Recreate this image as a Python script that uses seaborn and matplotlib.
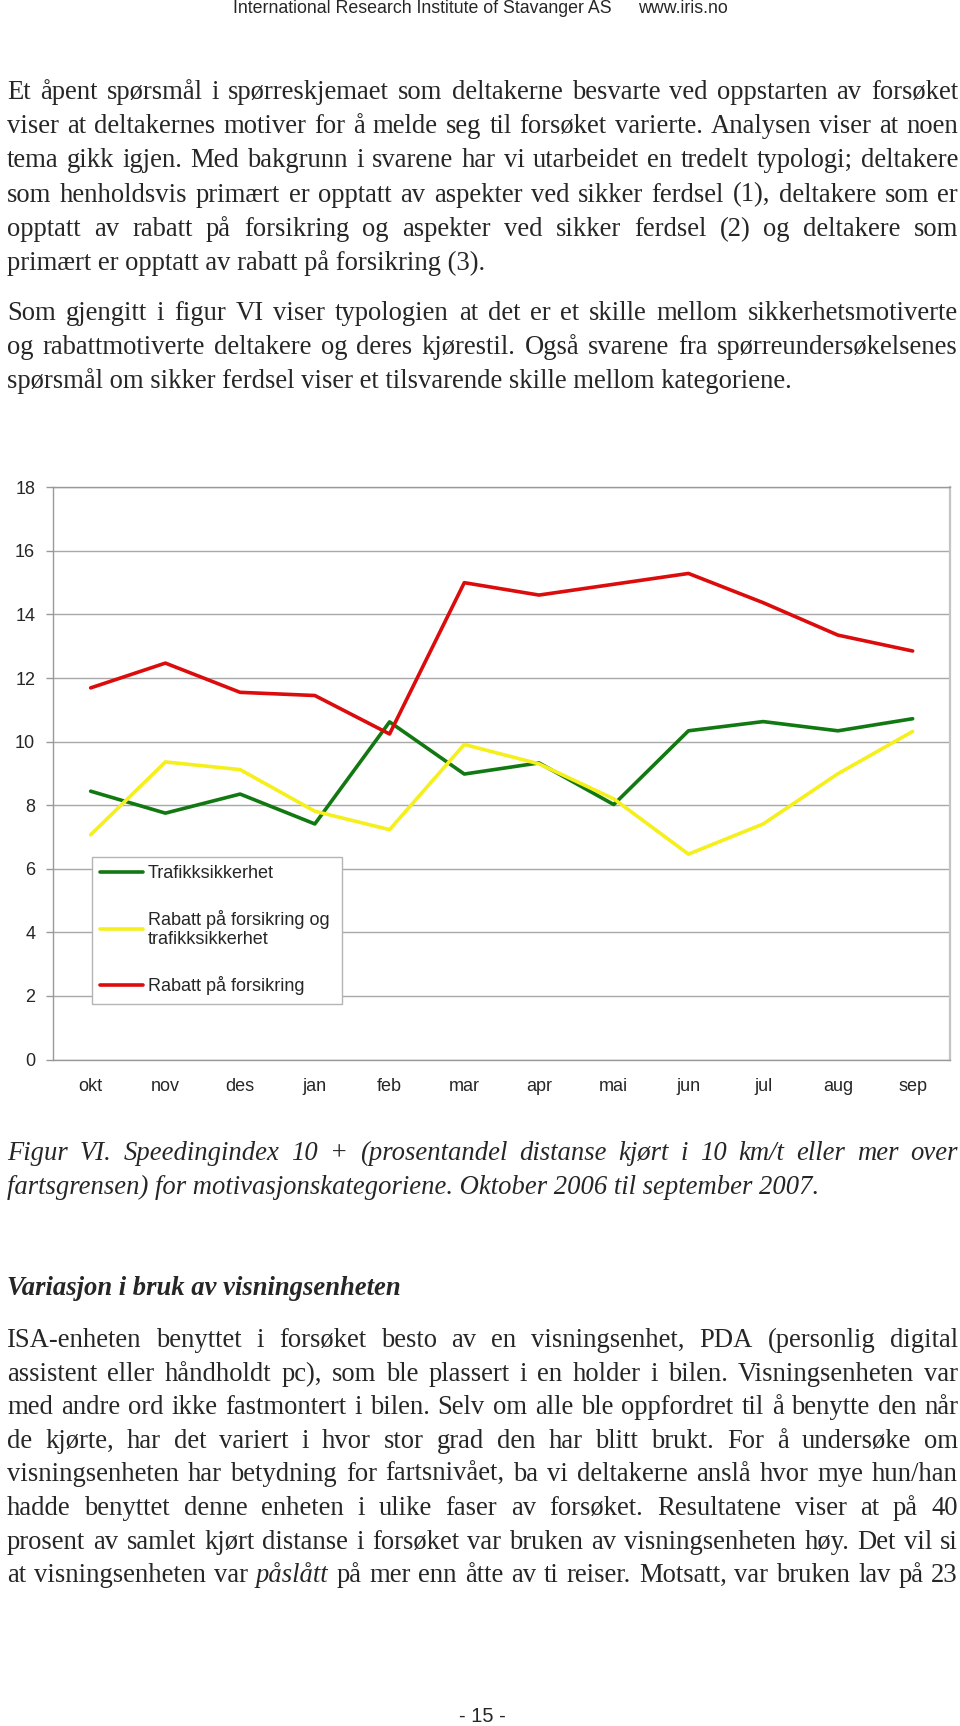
import numpy as np
import pandas as pd
import seaborn as sns
import matplotlib.pyplot as plt

# values (Speedingindex 10+, okt 2006 - sep 2007)
months = ['okt', 'nov', 'des', 'jan', 'feb', 'mar', 'apr', 'mai', 'jun', 'jul', 'aug', 'sep']
trafikk = [8.44, 7.75, 8.35, 7.41, 10.62, 8.98, 9.33, 8.02, 10.34, 10.63, 10.34, 10.72]
rabatt_og_trafikk = [7.07, 9.36, 9.12, 7.81, 7.23, 9.91, 9.30, 8.20, 6.46, 7.41, 8.99, 10.32]
rabatt = [11.69, 12.47, 11.55, 11.45, 10.24, 15.00, 14.61, 14.95, 15.29, 14.37, 13.35, 12.85]
labels = ['Trafikksikkerhet', 'Rabatt på forsikring og\ntrafikksikkerhet', 'Rabatt på forsikring']
colors = ['#127812', '#f5f01c', '#dc0c0c']
yticks = list(range(0, 19, 2))

para1 = [
    "Et åpent spørsmål i spørreskjemaet som deltakerne besvarte ved oppstarten av forsøket",
    "viser at deltakernes motiver for å melde seg til forsøket varierte. Analysen viser at noen",
    "tema gikk igjen. Med bakgrunn i svarene har vi utarbeidet en tredelt typologi; deltakere",
    "som henholdsvis primært er opptatt av aspekter ved sikker ferdsel (1), deltakere som er",
    "opptatt av rabatt på forsikring og aspekter ved sikker ferdsel (2) og deltakere som",
    "primært er opptatt av rabatt på forsikring (3).",
]
para2 = [
    "Som gjengitt i figur VI viser typologien at det er et skille mellom sikkerhetsmotiverte",
    "og rabattmotiverte deltakere og deres kjørestil. Også svarene fra spørreundersøkelsenes",
    "spørsmål om sikker ferdsel viser et tilsvarende skille mellom kategoriene.",
]
caption = [
    "Figur VI. Speedingindex 10 + (prosentandel distanse kjørt i 10 km/t eller mer over",
    "fartsgrensen) for motivasjonskategoriene. Oktober 2006 til september 2007.",
]
heading = "Variasjon i bruk av visningsenheten"
para3 = [
    "ISA-enheten benyttet i forsøket besto av en visningsenhet, PDA (personlig digital",
    "assistent eller håndholdt pc), som ble plassert i en holder i bilen. Visningsenheten var",
    "med andre ord ikke fastmontert i bilen. Selv om alle ble oppfordret til å benytte den når",
    "de kjørte, har det variert i hvor stor grad den har blitt brukt. For å undersøke om",
    "visningsenheten har betydning for fartsnivået, ba vi deltakerne anslå hvor mye hun/han",
    "hadde benyttet denne enheten i ulike faser av forsøket. Resultatene viser at på 40",
    "prosent av samlet kjørt distanse i forsøket var bruken av visningsenheten høy. Det vil si",
    "at visningsenheten var *påslått* på mer enn åtte av ti reiser. Motsatt, var bruken lav på 23",
]

sns.set_style('white')
plt.rcParams['font.family'] = ['Liberation Sans', 'DejaVu Sans']

W, H = 960, 1726
fig = plt.figure(figsize=(W / 100, H / 100), dpi=100)
renderer = fig.canvas.get_renderer()
SERIF = ['Liberation Serif', 'DejaVu Serif']
BODY = 19.2
LEFT, RIGHT = 7, 958


def fx(px):
    return px / W


def fy(py):
    return 1 - py / H


def put_line(text, base, justify=True, style='normal', weight='normal'):
    if not justify:
        fig.text(fx(LEFT), fy(base), text.replace('*', ''), fontsize=BODY, family=SERIF,
                 style=style, weight=weight, va='baseline', ha='left')
        return
    objs = []
    for w in text.split(' '):
        st = 'italic' if (w.startswith('*') or style == 'italic') else 'normal'
        objs.append(fig.text(0, fy(base), w.strip('*'), fontsize=BODY, family=SERIF,
                             style=st, weight=weight, va='baseline', ha='left'))
    widths = [t.get_window_extent(renderer).width for t in objs]
    gap = (RIGHT - LEFT - sum(widths)) / (len(objs) - 1)
    x = LEFT
    for t, w in zip(objs, widths):
        t.set_x(fx(x))
        x += w + gap


def put_para(lines, first_base, step=34.0, style='normal'):
    for i, line in enumerate(lines):
        put_line(line, first_base + i * step, justify=(i < len(lines) - 1), style=style)


# header and page number
fig.text(fx(233), fy(13), "International Research Institute of Stavanger AS", fontsize=12.8,
         va='baseline', ha='left')
fig.text(fx(638), fy(13), "www.iris.no", fontsize=12.8, va='baseline', ha='left')
fig.text(fx(482), fy(1722), "- 15 -", fontsize=14.5, va='baseline', ha='center')

put_para(para1, 99, step=34.2)
put_para(para2, 320, step=34.0)
put_para(caption, 1160, step=34.0, style='italic')
fig.text(fx(LEFT), fy(1295), heading, fontsize=BODY, family=SERIF, style='italic',
         weight='bold', va='baseline', ha='left')
# last line of para3 is still justified in the original (page break)
for i, line in enumerate(para3):
    put_line(line, 1347 + i * 33.6, justify=True)

# chart
ax = fig.add_axes([fx(53.3), fy(1059.5), fx(950) - fx(53.3), (1059.5 - 487.3) / H])
df = pd.DataFrame({
    'pos': np.tile(np.arange(len(months)), 3),
    'verdi': trafikk + rabatt_og_trafikk + rabatt,
    'gruppe': np.repeat(labels, len(months)),
})
sns.lineplot(data=df, x='pos', y='verdi', hue='gruppe', hue_order=labels,
             palette=dict(zip(labels, colors)), linewidth=2.6, sort=False,
             legend=False, ax=ax)

ax.set_xlim(-0.5, len(months) - 0.5)
ax.set_ylim(0, 18)
ax.set_yticks(yticks)
ax.set_yticklabels([str(v) for v in yticks])
ax.set_xticks(np.arange(len(months)))
ax.set_xticklabels(months)
ax.set_xticks(np.arange(-0.5, len(months), 1), minor=True)
ax.set_xlabel('')
ax.set_ylabel('')
ax.tick_params(axis='x', which='major', length=0, pad=13, labelsize=13)
ax.tick_params(axis='x', which='minor', length=5, color='#999999', width=1)
ax.tick_params(axis='y', length=5, color='#999999', width=1, pad=8, labelsize=13, left=True)
ax.grid(axis='y', color='#a8a8a8', linewidth=1)
ax.grid(axis='x', visible=False)
ax.set_axisbelow(True)
for side in ['left', 'bottom', 'top']:
    ax.spines[side].set_color('#999999')
    ax.spines[side].set_linewidth(1)
ax.spines['right'].set_color('#c4c4c4')
ax.spines['right'].set_linewidth(1.6)

leg = ax.legend(handles=ax.get_lines()[:3], labels=labels, loc='upper left',
                bbox_to_anchor=(0.0428, 0.0, 0.2787, 0.3544), mode='expand',
                borderaxespad=0, fontsize=13, handlelength=2.4, handletextpad=0.25,
                borderpad=0.45, labelspacing=1.55, fancybox=False, framealpha=1,
                edgecolor='#b4b4b4')
leg.get_frame().set_linewidth(1)

fig.savefig('out.png', dpi=100)
